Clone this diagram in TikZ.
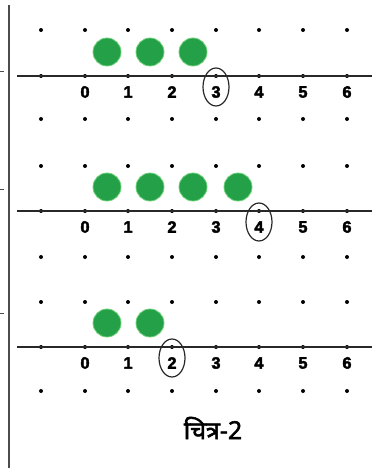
\documentclass[tikz,border=0pt]{standalone}
\usepackage{fontspec}
\usetikzlibrary{calc,shapes.geometric}
\setmainfont{Liberation Sans}
\newfontfamily\numfont[FakeBold=2.5]{Liberation Sans}
\newfontfamily\devfont[Script=Devanagari,FakeBold=2]{Noto Sans}
\definecolor{ballgreen}{RGB}{36,160,72}
\definecolor{ballrim}{RGB}{110,210,120}
\definecolor{linegray}{RGB}{40,40,40}
\begin{document}
\begin{tikzpicture}[x=1pt,y=-1pt,
  griddot/.style={circle,fill=black,inner sep=0pt,minimum size=4pt},
  ball/.style={circle,fill=ballgreen,draw=ballrim,line width=0.8pt,inner sep=0pt,minimum size=28pt},
  numlab/.style={font=\numfont\bfseries\fontsize{16.5}{16.5}\selectfont,inner sep=0pt},
  ring/.style={ellipse,draw=linegray,line width=1.2pt},
  axisline/.style={draw=linegray,line width=1.2pt}]
\useasboundingbox (0,0) rectangle (372,468);
% vertical rule and ticks
\coordinate (vt) at (9,5);
\coordinate (vb) at (9,468);
\draw[draw=black!70,line width=1.3pt] (vt) -- (vb);
\foreach \ty [count=\k] in {72,189,313}{
  \coordinate (tl\k) at (0,\ty);
  \coordinate (tr\k) at (4,\ty);
  \draw[black!70,line width=1pt] (tl\k) -- (tr\k);
}
% dot grid
\foreach \ry [count=\r] in {30,76,119,166,211,257,302,347,391}{
  \foreach \cx [count=\c] in {41,85,128,172,216,259,303,347}{
    \node[griddot] (d\r-\c) at (\cx,\ry) {};
  }
}
% number lines
\foreach \ly [count=\k] in {76,211,347}{
  \coordinate (la\k) at (17,\ly);
  \coordinate (lb\k) at (372,\ly);
  \draw[axisline] (la\k) -- (lb\k);
  \foreach \n [count=\c from 2] in {0,...,6}{
    \node[numlab] (n\k-\n) at ($(d1-\c)+(0,\ly-14)$) {\n};
  }
}
% circled answers
\node[ring,minimum width=26pt,minimum height=38pt] (r1) at (216,87) {};
\node[ring,minimum width=26pt,minimum height=38pt] (r2) at (259,222) {};
\node[ring,minimum width=26pt,minimum height=38pt] (r3) at (172,358) {};
% green counters
\foreach \bx [count=\i] in {107,150,193}{\node[ball] (a\i) at (\bx,52) {};}
\foreach \bx [count=\i] in {107,150,193,238}{\node[ball] (b\i) at (\bx,187) {};}
\foreach \bx [count=\i] in {107,150}{\node[ball] (c\i) at (\bx,323) {};}
% caption
\node[font=\devfont\fontsize{25}{25}\selectfont,inner sep=0pt] (cap) at (213,428) {चित्र-2};
\end{tikzpicture}
\end{document}
